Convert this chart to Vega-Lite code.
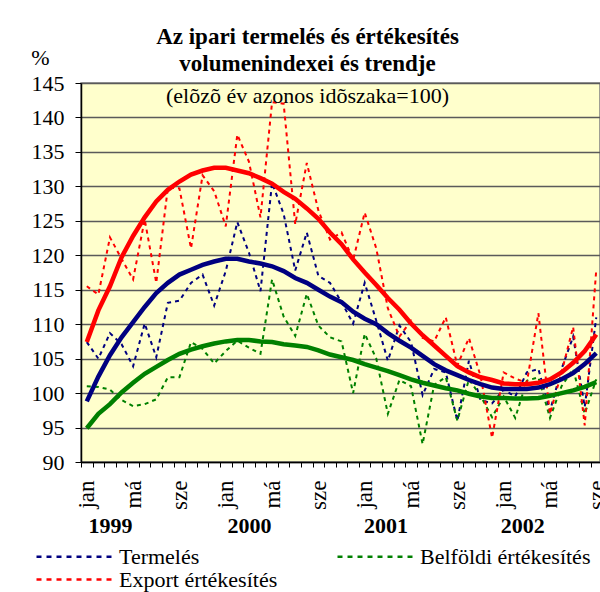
{
"$schema":"https://vega.github.io/schema/vega-lite/v6.json",
"width":519,"height":379,
"autosize":{"type":"none"},
"padding":{"left":81,"top":83,"right":0,"bottom":130},
"background":"white",
"title":{"text":["Az ipari termelés és értékesítés","volumenindexei és trendje"],"subtitle":"(elõzõ év azonos idõszaka=100)","font":"Liberation Serif","fontSize":23,"fontWeight":"bold","lineHeight":27,"color":"black","subtitleFont":"Liberation Serif","subtitleFontSize":22,"subtitleColor":"black","subtitleFontWeight":"normal","subtitlePadding":10,"anchor":"middle","frame":"group","offset":-61,"dx":-33},
"datasets":{"d":[
{"m":0,"s":"Termelés","r":107.4,"t":98.8},{"m":1,"s":"Termelés","r":105.0,"t":102.4},{"m":2,"s":"Termelés","r":108.7,"t":105.5},{"m":3,"s":"Termelés","r":107.1,"t":108.1},{"m":4,"s":"Termelés","r":103.9,"t":110.3},{"m":5,"s":"Termelés","r":110.1,"t":112.5},{"m":6,"s":"Termelés","r":105.2,"t":114.5},{"m":7,"s":"Termelés","r":113.1,"t":116.0},{"m":8,"s":"Termelés","r":113.4,"t":117.2},{"m":9,"s":"Termelés","r":116.0,"t":117.9},{"m":10,"s":"Termelés","r":117.2,"t":118.6},{"m":11,"s":"Termelés","r":112.7,"t":119.1},{"m":12,"s":"Termelés","r":117.7,"t":119.5},{"m":13,"s":"Termelés","r":124.8,"t":119.5},{"m":14,"s":"Termelés","r":120.4,"t":119.1},{"m":15,"s":"Termelés","r":114.8,"t":118.8},{"m":16,"s":"Termelés","r":130.5,"t":118.4},{"m":17,"s":"Termelés","r":126.0,"t":117.7},{"m":18,"s":"Termelés","r":117.8,"t":116.7},{"m":19,"s":"Termelés","r":123.3,"t":116.0},{"m":20,"s":"Termelés","r":117.0,"t":115.0},{"m":21,"s":"Termelés","r":116.0,"t":114.0},{"m":22,"s":"Termelés","r":113.2,"t":113.2},{"m":23,"s":"Termelés","r":110.1,"t":111.8},{"m":24,"s":"Termelés","r":116.0,"t":110.8},{"m":25,"s":"Termelés","r":110.5,"t":110.0},{"m":26,"s":"Termelés","r":104.7,"t":108.7},{"m":27,"s":"Termelés","r":109.8,"t":107.6},{"m":28,"s":"Termelés","r":107.4,"t":106.6},{"m":29,"s":"Termelés","r":99.7,"t":105.4},{"m":30,"s":"Termelés","r":103.5,"t":104.2},{"m":31,"s":"Termelés","r":103.0,"t":103.3},{"m":32,"s":"Termelés","r":96.0,"t":102.6},{"m":33,"s":"Termelés","r":104.7,"t":101.9},{"m":34,"s":"Termelés","r":99.0,"t":101.3},{"m":35,"s":"Termelés","r":98.5,"t":100.8},{"m":36,"s":"Termelés","r":100.5,"t":100.6},{"m":37,"s":"Termelés","r":99.5,"t":100.6},{"m":38,"s":"Termelés","r":103.0,"t":100.6},{"m":39,"s":"Termelés","r":103.5,"t":100.8},{"m":40,"s":"Termelés","r":97.4,"t":101.3},{"m":41,"s":"Termelés","r":103.5,"t":102.0},{"m":42,"s":"Termelés","r":108.2,"t":102.9},{"m":43,"s":"Termelés","r":98.0,"t":104.2},{"m":44,"s":"Termelés","r":111.0,"t":105.8},
{"m":0,"s":"Belföldi értékesítés","r":101.0,"t":94.9},{"m":1,"s":"Belföldi értékesítés","r":100.9,"t":97.0},{"m":2,"s":"Belföldi értékesítés","r":100.5,"t":98.4},{"m":3,"s":"Belföldi értékesítés","r":99.0,"t":100.1},{"m":4,"s":"Belföldi értékesítés","r":98.1,"t":101.5},{"m":5,"s":"Belföldi értékesítés","r":98.4,"t":102.8},{"m":6,"s":"Belföldi értékesítés","r":99.1,"t":103.8},{"m":7,"s":"Belföldi értékesítés","r":102.3,"t":104.8},{"m":8,"s":"Belföldi értékesítés","r":102.3,"t":105.7},{"m":9,"s":"Belföldi értékesítés","r":107.4,"t":106.3},{"m":10,"s":"Belföldi értékesítés","r":106.4,"t":106.8},{"m":11,"s":"Belföldi értékesítés","r":104.3,"t":107.2},{"m":12,"s":"Belföldi értékesítés","r":106.1,"t":107.5},{"m":13,"s":"Belföldi értékesítés","r":107.6,"t":107.7},{"m":14,"s":"Belföldi értékesítés","r":106.6,"t":107.7},{"m":15,"s":"Belföldi értékesítés","r":105.7,"t":107.5},{"m":16,"s":"Belföldi értékesítés","r":116.5,"t":107.4},{"m":17,"s":"Belföldi értékesítés","r":111.1,"t":107.1},{"m":18,"s":"Belföldi értékesítés","r":108.3,"t":106.9},{"m":19,"s":"Belföldi értékesítés","r":114.4,"t":106.7},{"m":20,"s":"Belföldi értékesítés","r":109.8,"t":106.2},{"m":21,"s":"Belföldi értékesítés","r":108.1,"t":105.6},{"m":22,"s":"Belföldi értékesítés","r":107.5,"t":105.2},{"m":23,"s":"Belföldi értékesítés","r":100.0,"t":104.8},{"m":24,"s":"Belföldi értékesítés","r":108.6,"t":104.2},{"m":25,"s":"Belföldi értékesítés","r":105.0,"t":103.7},{"m":26,"s":"Belföldi értékesítés","r":97.0,"t":103.2},{"m":27,"s":"Belföldi értékesítés","r":101.9,"t":102.6},{"m":28,"s":"Belföldi értékesítés","r":101.0,"t":102.0},{"m":29,"s":"Belföldi értékesítés","r":92.6,"t":101.5},{"m":30,"s":"Belföldi értékesítés","r":101.2,"t":101.1},{"m":31,"s":"Belföldi értékesítés","r":102.3,"t":100.7},{"m":32,"s":"Belföldi értékesítés","r":96.0,"t":100.4},{"m":33,"s":"Belföldi értékesítés","r":102.0,"t":99.9},{"m":34,"s":"Belföldi értékesítés","r":99.6,"t":99.5},{"m":35,"s":"Belföldi értékesítés","r":96.5,"t":99.3},{"m":36,"s":"Belföldi értékesítés","r":99.5,"t":99.3},{"m":37,"s":"Belföldi értékesítés","r":96.4,"t":99.2},{"m":38,"s":"Belföldi értékesítés","r":101.8,"t":99.2},{"m":39,"s":"Belföldi értékesítés","r":102.3,"t":99.3},{"m":40,"s":"Belföldi értékesítés","r":96.4,"t":99.6},{"m":41,"s":"Belföldi értékesítés","r":101.0,"t":100.0},{"m":42,"s":"Belföldi értékesítés","r":103.5,"t":100.4},{"m":43,"s":"Belföldi értékesítés","r":97.0,"t":100.9},{"m":44,"s":"Belföldi értékesítés","r":102.0,"t":101.6},
{"m":0,"s":"Export értékesítés","r":115.5,"t":107.4},{"m":1,"s":"Export értékesítés","r":114.3,"t":112.0},{"m":2,"s":"Export értékesítés","r":122.6,"t":115.5},{"m":3,"s":"Export értékesítés","r":119.5,"t":119.7},{"m":4,"s":"Export értékesítés","r":116.5,"t":122.8},{"m":5,"s":"Export értékesítés","r":125.2,"t":125.5},{"m":6,"s":"Export értékesítés","r":116.0,"t":127.8},{"m":7,"s":"Export értékesítés","r":129.8,"t":129.5},{"m":8,"s":"Export értékesítés","r":129.7,"t":130.7},{"m":9,"s":"Export értékesítés","r":121.0,"t":131.7},{"m":10,"s":"Export értékesítés","r":131.6,"t":132.3},{"m":11,"s":"Export értékesítés","r":129.3,"t":132.7},{"m":12,"s":"Export értékesítés","r":124.2,"t":132.7},{"m":13,"s":"Export értékesítés","r":137.5,"t":132.3},{"m":14,"s":"Export értékesítés","r":133.6,"t":131.9},{"m":15,"s":"Export értékesítés","r":125.5,"t":131.2},{"m":16,"s":"Export értékesítés","r":142.2,"t":130.4},{"m":17,"s":"Export értékesítés","r":142.0,"t":129.2},{"m":18,"s":"Export értékesítés","r":124.5,"t":128.2},{"m":19,"s":"Export értékesítés","r":133.4,"t":126.8},{"m":20,"s":"Export értékesítés","r":126.5,"t":125.3},{"m":21,"s":"Export értékesítés","r":122.3,"t":123.3},{"m":22,"s":"Export értékesítés","r":123.3,"t":121.6},{"m":23,"s":"Export értékesítés","r":119.3,"t":119.4},{"m":24,"s":"Export értékesítés","r":126.2,"t":117.5},{"m":25,"s":"Export értékesítés","r":121.0,"t":115.7},{"m":26,"s":"Export értékesítés","r":112.3,"t":113.8},{"m":27,"s":"Export értékesítés","r":108.2,"t":112.1},{"m":28,"s":"Export értékesítés","r":110.5,"t":110.1},{"m":29,"s":"Export értékesítés","r":108.0,"t":108.4},{"m":30,"s":"Export értékesítés","r":107.5,"t":106.9},{"m":31,"s":"Export értékesítés","r":111.0,"t":105.4},{"m":32,"s":"Export értékesítés","r":104.0,"t":103.9},{"m":33,"s":"Export értékesítés","r":108.0,"t":103.0},{"m":34,"s":"Export értékesítés","r":102.5,"t":102.3},{"m":35,"s":"Export értékesítés","r":93.5,"t":101.9},{"m":36,"s":"Export értékesítés","r":103.0,"t":101.4},{"m":37,"s":"Export értékesítés","r":102.1,"t":101.3},{"m":38,"s":"Export értékesítés","r":101.5,"t":101.3},{"m":39,"s":"Export értékesítés","r":111.6,"t":101.5},{"m":40,"s":"Export értékesítés","r":97.0,"t":102.0},{"m":41,"s":"Export értékesítés","r":103.0,"t":103.0},{"m":42,"s":"Export értékesítés","r":109.6,"t":104.4},{"m":43,"s":"Export értékesítés","r":95.3,"t":106.1},{"m":44,"s":"Export értékesítés","r":118.0,"t":108.5}
]},
"data":{"name":"d"},
"layer":[
{"mark":{"type":"line","strokeWidth":2,"strokeDash":[4,4],"clip":true},
 "encoding":{
  "x":{"field":"m","type":"quantitative","scale":{"domain":[-0.5,44.32],"nice":false,"zero":false},
   "axis":{"orient":"bottom","values":[-0.5,0.5,1.5,2.5,3.5,4.5,5.5,6.5,7.5,8.5,9.5,10.5,11.5,12.5,13.5,14.5,15.5,16.5,17.5,18.5,19.5,20.5,21.5,22.5,23.5,24.5,25.5,26.5,27.5,28.5,29.5,30.5,31.5,32.5,33.5,34.5,35.5,36.5,37.5,38.5,39.5,40.5,41.5,42.5,43.5],
    "labelExpr":"(datum.value+0.5)%12==0?'jan':(datum.value+0.5)%12==4?'má':(datum.value+0.5)%12==8?'sze':''",
    "labelAngle":-90,"labelOffset":5.8,"labelPadding":13,"tickSize":5,"tickColor":"black","tickWidth":1,"domainColor":"black","domainWidth":1.5,"grid":false,"labelFont":"Liberation Serif","labelFontSize":23,"labelColor":"black","labelOverlap":false,"labelBound":false,"labelFlush":false,"title":null}},
  "y":{"field":"r","type":"quantitative","scale":{"domain":[90,145],"nice":false,"zero":false},
   "axis":{"values":[90,95,100,105,110,115,120,125,130,135,140,145],"grid":true,"gridColor":"#5a5a5a","gridWidth":1.4,"domainColor":"black","domainWidth":1.5,"tickColor":"black","tickSize":6,"labelPadding":11,"labelFont":"Liberation Serif","labelFontSize":22,"labelColor":"black","title":"%","titleAngle":0,"titleFont":"Liberation Serif","titleFontSize":22,"titleFontWeight":"normal","titleColor":"black","titleX":-41,"titleY":-26,"titleAlign":"center","titleBaseline":"middle"}},
  "color":{"field":"s","type":"nominal","scale":{"domain":["Termelés","Belföldi értékesítés","Export értékesítés"],"range":["#000080","#008000","#FF0000"]},
   "legend":{"orient":"none","direction":"horizontal","legendX":-46,"legendY":463,"columns":2,"columnPadding":58,"rowPadding":0,"clipHeight":21,"symbolType":"stroke","symbolSize":5625,"symbolStrokeWidth":2.5,"symbolDash":[5,5],"labelFont":"Liberation Serif","labelFontSize":22,"labelColor":"black","labelOffset":6,"labelLimit":400,"title":null,"padding":0}}
 }},
{"mark":{"type":"line","strokeWidth":4.5,"clip":true},
 "encoding":{
  "x":{"field":"m","type":"quantitative",
   "axis":{"orient":"bottom","values":[2,14,25.8,37.6],"labelExpr":"datum.value<8?'1999':datum.value<20?'2000':datum.value<32?'2001':'2002'","ticks":false,"tickSize":0,"domain":false,"grid":false,"labelPadding":53,"labelFontWeight":"bold","labelFontSize":22,"labelFont":"Liberation Serif","labelColor":"black","labelAngle":0,"labelOverlap":false,"labelBound":false,"labelFlush":false,"title":null}},
  "y":{"field":"t","type":"quantitative","axis":null},
  "color":{"field":"s","type":"nominal","legend":null}
 }}
],
"resolve":{"axis":{"x":"independent","y":"independent"}},
"config":{"view":{"fill":"#FFFFCC","stroke":"#808080","strokeWidth":1.5}}
}
